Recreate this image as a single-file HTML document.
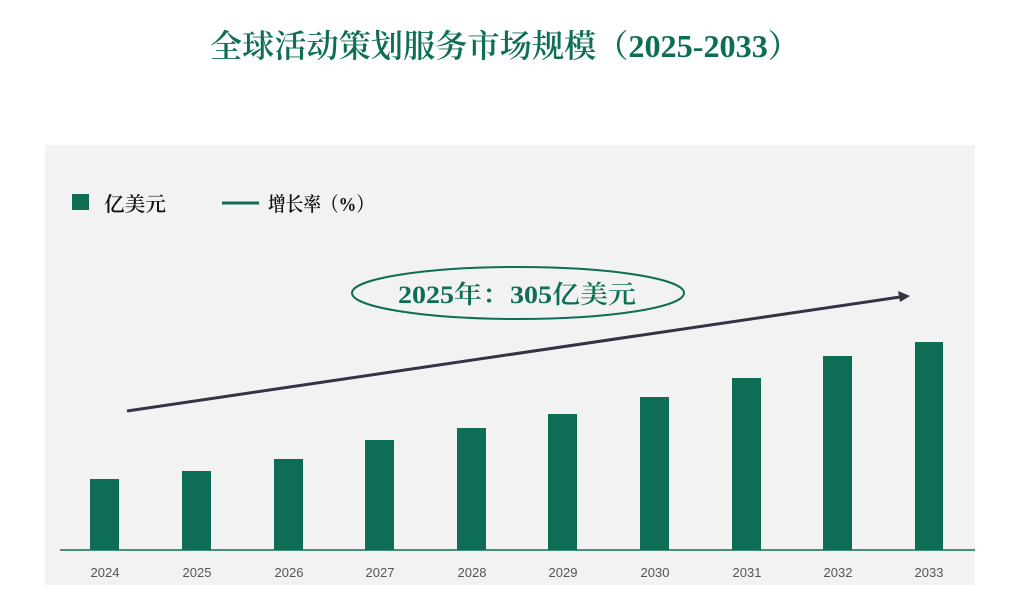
<!DOCTYPE html>
<html><head><meta charset="utf-8"><style>
body{margin:0;background:#fff;width:1021px;height:600px;overflow:hidden}
</style></head><body>
<svg width="1021" height="600" xmlns="http://www.w3.org/2000/svg">
<text x="210" y="57" textLength="590" lengthAdjust="spacingAndGlyphs" font-family="'Liberation Serif','Noto Serif CJK SC',serif" font-size="32" font-weight="600" fill="#0e6e55">全球活动策划服务市场规模（2025-2033）</text>
<rect x="45" y="145" width="930" height="440" fill="#f2f2f2"/>
<rect x="72" y="194" width="17" height="16" fill="#0e6e55"/>
<text x="104" y="211" textLength="62" lengthAdjust="spacingAndGlyphs" font-family="'Liberation Serif','Noto Serif CJK SC',serif" font-size="20" font-weight="600" fill="#111">亿美元</text>
<line x1="222" y1="203" x2="259" y2="203" stroke="#0e6e55" stroke-width="3"/>
<text x="268" y="211" textLength="106" lengthAdjust="spacingAndGlyphs" font-family="'Liberation Serif','Noto Serif CJK SC',serif" font-size="20" font-weight="600" fill="#111">增长率（%）</text>
<g fill="#0e6e55">
<rect x="90" y="479" width="29" height="71"/>
<rect x="182" y="471" width="29" height="79"/>
<rect x="274" y="459" width="29" height="91"/>
<rect x="365" y="440" width="29" height="110"/>
<rect x="457" y="428" width="29" height="122"/>
<rect x="548" y="414" width="29" height="136"/>
<rect x="640" y="397" width="29" height="153"/>
<rect x="732" y="378" width="29" height="172"/>
<rect x="823" y="356" width="29" height="194"/>
<rect x="915" y="342" width="28" height="208"/>
</g>
<line x1="60" y1="550" x2="975" y2="550" stroke="#0e6e55" stroke-width="1.5"/>
<g font-family="'Liberation Sans',sans-serif" font-size="13" fill="#555" text-anchor="middle">
<text x="105" y="577">2024</text><text x="197" y="577">2025</text><text x="289" y="577">2026</text>
<text x="380" y="577">2027</text><text x="472" y="577">2028</text><text x="563" y="577">2029</text>
<text x="655" y="577">2030</text><text x="747" y="577">2031</text><text x="838" y="577">2032</text>
<text x="929" y="577">2033</text>
</g>
<line x1="127" y1="411" x2="900" y2="297" stroke="#333344" stroke-width="3"/>
<polygon points="910,296 898,291 900,302" fill="#333344"/>
<ellipse cx="518" cy="293" rx="166" ry="26" fill="none" stroke="#0e6e55" stroke-width="2"/>
<text x="398" y="303" textLength="238" lengthAdjust="spacingAndGlyphs" font-family="'Liberation Serif','Noto Serif CJK SC',serif" font-size="25" font-weight="600" fill="#0e6e55">2025年：305亿美元</text>
</svg>
</body></html>
